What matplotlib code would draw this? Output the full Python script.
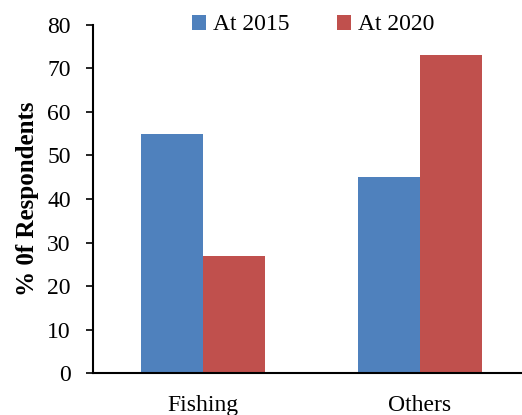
import numpy as np
import matplotlib.pyplot as plt

categories = ['Fishing', 'Others']
at_2015 = [55, 45]
at_2020 = [27, 73]

plt.rcParams['font.family'] = 'Liberation Serif'

fig = plt.figure(figsize=(5.22, 4.15), dpi=100)
ax = fig.add_axes([0.178, 0.101, 0.822, 0.839])

x = np.arange(len(categories))
w = 0.286
ax.bar(x - w / 2, at_2015, w, color='#4F81BD', label='At 2015')
ax.bar(x + w / 2, at_2020, w, color='#C0504D', label='At 2020')

ax.set_xlim(-0.507, 1.47)
ax.set_ylim(0, 80)
ax.set_yticks(range(0, 81, 10))
ax.set_xticks(x)
ax.set_xticklabels(categories)

for side in ['top', 'right']:
    ax.spines[side].set_visible(False)
for side in ['left', 'bottom']:
    ax.spines[side].set_linewidth(1.5)
    ax.spines[side].set_color('black')

ax.tick_params(axis='y', length=5, width=1.2, pad=11, labelsize=17)
ax.tick_params(axis='x', length=0, pad=16, labelsize=17)
ax.set_ylabel('% 0f Respondents', fontsize=18, fontweight='bold', labelpad=6)

fig.legend(loc='center', bbox_to_anchor=(0.6, 0.94), ncol=2, frameon=False,
           fontsize=17, handlelength=0.6, handleheight=0.6, handletextpad=0.3,
           columnspacing=2.0)

fig.savefig('out.png', dpi=100)
